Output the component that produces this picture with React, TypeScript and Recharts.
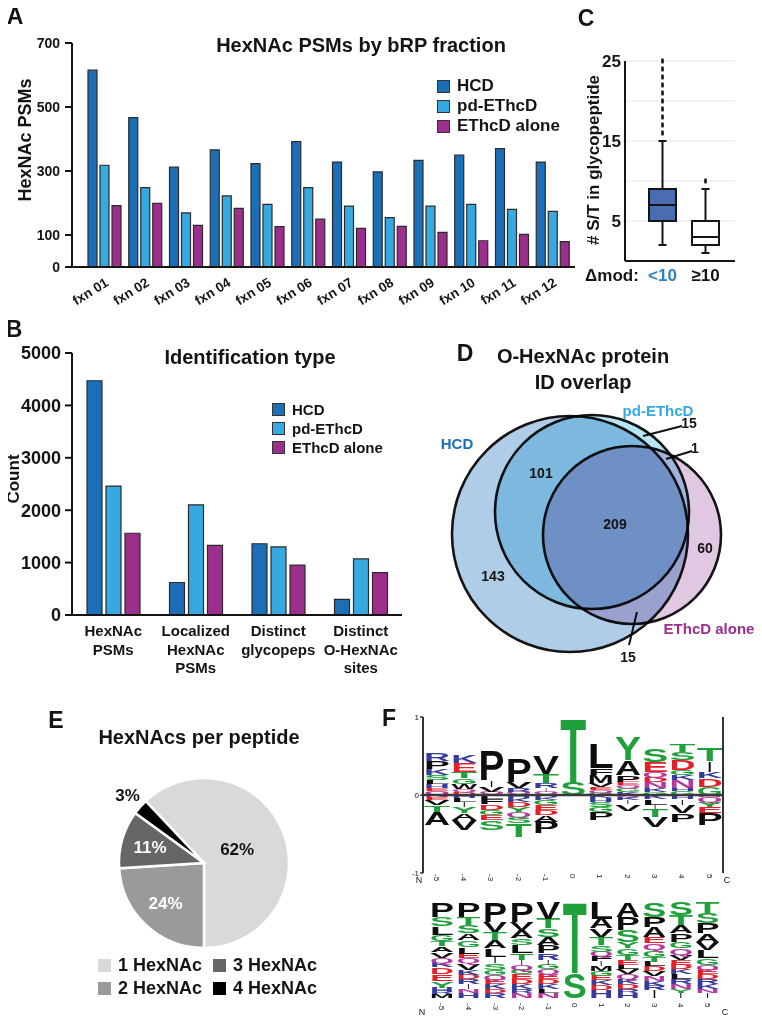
import React from "react";
import {
  BarChart,
  Bar,
  ComposedChart,
  XAxis,
  YAxis,
  CartesianGrid,
  Legend,
  PieChart,
  Pie,
  ScatterChart,
  Scatter,
  ReferenceLine,
} from "recharts";

const FONT = '"Liberation Sans", Arial, Helvetica, sans-serif';
const INK = "#141414";

// ---- A: HexNAc PSMs by bRP fraction
const fractions = ["fxn 01", "fxn 02", "fxn 03", "fxn 04", "fxn 05", "fxn 06", "fxn 07", "fxn 08", "fxn 09", "fxn 10", "fxn 11", "fxn 12"];
const hcdPsms = [615, 467, 312, 366, 323, 392, 328, 297, 333, 350, 370, 328];
const pdEthcdPsms = [318, 248, 169, 222, 196, 248, 190, 154, 190, 196, 180, 174];
const ethcdAlonePsms = [192, 199, 130, 183, 126, 150, 121, 127, 108, 82, 102, 79];
const psmTicks = [0, 100, 300, 500, 700];

// ---- B: identification type
const idTypes = ["HexNAc\nPSMs", "Localized\nHexNAc\nPSMs", "Distinct\nglycopeps", "Distinct\nO-HexNAc\nsites"];
const hcdCounts = [4470, 620, 1360, 300];
const pdEthcdCounts = [2460, 2100, 1300, 1070];
const ethcdAloneCounts = [1560, 1330, 950, 810];
const countTicks = [0, 1000, 2000, 3000, 4000, 5000];

const methods = ["HCD", "pd-EThcD", "EThcD alone"];
const methodColors = ["#1b6fb8", "#36a9e1", "#9c2f8c"];

// ---- C: # S/T in glycopeptide
const modGroups = ["<10", "≥10"];
const modColors = ["#2f80c4", INK];
const whiskerLow = [2, 1];
const boxQ1 = [5, 2];
const boxMedian = [7, 3];
const boxQ3 = [9, 5];
const whiskerHigh = [15, 9];
const outlierValues = [[16, 17, 18, 19, 20, 21, 22, 23, 24, 25], [10]];
const boxFills = ["#4a6cb3", "#ffffff"];

// ---- D: protein ID overlap (venn layout in its own units)
const vennX = [130, 152, 192];
const vennY = [134, 112, 135];
const vennR = [118, 97, 89];
const vennFills = ["#afcde7", "#b6e5f6", "#e0c8e3"];
const vennNameX = [17, 218, 269];
const vennNameY = [43, 10, 228];
const regionCounts = [143, 101, 209, 60, 15, 1, 15];
const regionX = [53, 101, 175, 265, 249, 255, 188];
const regionY = [176, 73, 124, 148, 23, 48, 257];

// ---- E: HexNAcs per peptide
const hexnacClasses = ["1 HexNAc", "2 HexNAc", "3 HexNAc", "4 HexNAc"];
const hexnacShare = [62, 24, 11, 3];
const pieColors = ["#d9d9d9", "#9a9a9a", "#666666", "#000000"];

// ---- F: sequence logos, residues read top to bottom
const logoPositions = ["-5", "-4", "-3", "-2", "-1", "0", "1", "2", "3", "4", "5"];
const enrichedUp: [string, number][][] = [
  [["R", 0.107], ["P", 0.1], ["K", 0.08], ["S", 0.065], ["L", 0.05], ["H", 0.055], ["E", 0.04], ["Q", 0.045]],
  [["K", 0.107], ["E", 0.116], ["T", 0.077], ["G", 0.073], ["W", 0.064], ["Q", 0.04], ["D", 0.037]],
  [["P", 0.386], ["I", 0.086], ["V", 0.064], ["Q", 0.025], ["H", 0.018]],
  [["P", 0.3], ["V", 0.077], ["R", 0.05], ["Q", 0.025], ["D", 0.018]],
  [["V", 0.236], ["T", 0.12], ["R", 0.064], ["I", 0.043], ["Q", 0.025], ["D", 0.018]],
  [["T", 0.837], ["S", 0.16]],
  [["L", 0.32], ["F", 0.086], ["M", 0.1], ["V", 0.05], ["E", 0.04], ["Q", 0.035], ["G", 0.032]],
  [["Y", 0.3], ["A", 0.193], ["P", 0.086], ["E", 0.045], ["Q", 0.04], ["G", 0.045], ["K", 0.04]],
  [["S", 0.17], ["E", 0.13], ["Q", 0.064], ["D", 0.064], ["N", 0.086], ["K", 0.045], ["G", 0.04]],
  [["T", 0.107], ["S", 0.094], ["D", 0.13], ["G", 0.064], ["K", 0.064], ["N", 0.107], ["H", 0.04], ["G", 0.046]],
  [["T", 0.17], ["I", 0.13], ["K", 0.086], ["D", 0.107], ["G", 0.107]],
];
// depleted residues
const depletedDown: [string, number][][] = [
  [["N", 0.03], ["E", 0.034], ["V", 0.065], ["T", 0.085], ["A", 0.17]],
  [["H", 0.04], ["L", 0.045], ["I", 0.07], ["Y", 0.077], ["A", 0.085], ["V", 0.13]],
  [["L", 0.056], ["F", 0.06], ["D", 0.07], ["G", 0.073], ["E", 0.064], ["S", 0.12]],
  [["H", 0.04], ["K", 0.046], ["D", 0.064], ["Y", 0.064], ["Q", 0.064], ["S", 0.086], ["T", 0.17]],
  [["H", 0.03], ["K", 0.034], ["G", 0.064], ["E", 0.064], ["D", 0.064], ["A", 0.086], ["P", 0.15]],
  [],
  [["K", 0.04], ["H", 0.046], ["S", 0.064], ["G", 0.064], ["P", 0.107]],
  [["Q", 0.03], ["K", 0.034], ["I", 0.056], ["V", 0.086]],
  [["K", 0.056], ["L", 0.073], ["I", 0.056], ["T", 0.094], ["V", 0.13]],
  [["H", 0.056], ["I", 0.073], ["V", 0.107], ["P", 0.107]],
  [["N", 0.02], ["Q", 0.064], ["Y", 0.064], ["E", 0.086], ["P", 0.15]],
];
const frequencyUp: [string, number][][] = [
  [["P", 0.155], ["S", 0.1], ["L", 0.086], ["G", 0.07], ["T", 0.05], ["A", 0.06], ["V", 0.06], ["Q", 0.05], ["K", 0.05], ["D", 0.07], ["E", 0.07], ["Y", 0.07], ["H", 0.035], ["R", 0.035], ["M", 0.039]],
  [["P", 0.155], ["T", 0.086], ["S", 0.086], ["A", 0.07], ["G", 0.07], ["L", 0.07], ["E", 0.05], ["Q", 0.05], ["V", 0.07], ["K", 0.05], ["D", 0.05], ["R", 0.05], ["I", 0.05], ["N", 0.04], ["H", 0.053]],
  [["P", 0.207], ["V", 0.103], ["T", 0.086], ["A", 0.086], ["L", 0.086], ["I", 0.07], ["S", 0.07], ["G", 0.05], ["Q", 0.05], ["E", 0.05], ["K", 0.05], ["D", 0.04], ["R", 0.052]],
  [["P", 0.207], ["V", 0.086], ["A", 0.086], ["S", 0.07], ["L", 0.086], ["T", 0.07], ["I", 0.05], ["Q", 0.05], ["G", 0.05], ["E", 0.05], ["D", 0.05], ["K", 0.05], ["R", 0.04], ["N", 0.055]],
  [["V", 0.172], ["T", 0.103], ["S", 0.086], ["A", 0.086], ["P", 0.086], ["R", 0.07], ["I", 0.05], ["G", 0.05], ["Q", 0.05], ["E", 0.05], ["D", 0.05], ["K", 0.05], ["L", 0.04], ["N", 0.057]],
  [["T", 0.74], ["S", 0.26]],
  [["L", 0.172], ["A", 0.103], ["V", 0.086], ["T", 0.086], ["S", 0.07], ["Q", 0.05], ["F", 0.05], ["I", 0.05], ["M", 0.05], ["G", 0.05], ["E", 0.05], ["K", 0.05], ["D", 0.05], ["H", 0.083]],
  [["A", 0.155], ["P", 0.138], ["S", 0.12], ["Y", 0.07], ["G", 0.07], ["T", 0.05], ["E", 0.05], ["L", 0.05], ["V", 0.05], ["Q", 0.05], ["K", 0.05], ["D", 0.05], ["R", 0.04], ["H", 0.057]],
  [["S", 0.155], ["P", 0.103], ["A", 0.103], ["E", 0.07], ["Q", 0.07], ["G", 0.07], ["T", 0.05], ["L", 0.05], ["D", 0.05], ["V", 0.05], ["N", 0.05], ["K", 0.05], ["R", 0.05], ["I", 0.079]],
  [["S", 0.138], ["T", 0.103], ["A", 0.086], ["P", 0.086], ["G", 0.07], ["Q", 0.07], ["V", 0.05], ["E", 0.05], ["D", 0.05], ["K", 0.05], ["L", 0.05], ["R", 0.05], ["N", 0.05], ["Y", 0.04], ["I", 0.057]],
  [["T", 0.12], ["S", 0.103], ["P", 0.103], ["A", 0.086], ["V", 0.086], ["L", 0.086], ["G", 0.07], ["Q", 0.05], ["E", 0.05], ["D", 0.05], ["R", 0.05], ["K", 0.05], ["N", 0.04], ["I", 0.056]],
];

function aaColor(aa: string) {
  if ("GSTYC".includes(aa)) return "#20a03a";
  if ("NQ".includes(aa)) return "#b6389e";
  if ("KRH".includes(aa)) return "#373b9b";
  if ("DE".includes(aa)) return "#e3202a";
  return "#0d0d0d";
}

function Txt({ x, y, size, children, color = INK, rotate = 0, weight = 700 }: any) {
  return (
    <div
      style={{
        position: "absolute",
        zIndex: 5,
        left: x,
        top: y,
        transform: `translate(-50%, -50%) rotate(${rotate}deg)`,
        fontSize: size,
        fontWeight: weight,
        color,
        whiteSpace: "nowrap",
        lineHeight: 1,
      }}
    >
      {children}
    </div>
  );
}

function SquareLegend({ payload = [], size, rowH, sq }: any) {
  const items = [...payload].sort((a: any, b: any) => methods.indexOf(a.value) - methods.indexOf(b.value));
  return (
    <div style={{ fontFamily: FONT }}>
      {items.map((p: any) => (
        <div key={p.value} style={{ display: "flex", alignItems: "center", height: rowH, fontSize: size, fontWeight: 700, color: INK, whiteSpace: "nowrap" }}>
          <span style={{ width: sq, height: sq, background: methodColors[methods.indexOf(p.value)] ?? p.color, border: "1.5px solid #333", boxSizing: "border-box", marginRight: 7, flex: "none" }} />
          {p.value}
        </div>
      ))}
    </div>
  );
}

const FxnTick = ({ x, y, payload }: any) => (
  <text x={x + 5} y={y + 10} transform={`rotate(-32 ${x + 5} ${y + 10})`} textAnchor="end" fontSize={13.5} fontWeight={700} fill={INK}>
    {payload.value}
  </text>
);

const MultiTick = ({ x, y, payload }: any) => (
  <text x={x} y={y} textAnchor="middle" fontSize={15} fontWeight={700} fill={INK}>
    {String(payload.value)
      .split("\n")
      .map((s, i) => (
        <tspan key={i} x={x} dy={i === 0 ? 13 : 18.5}>
          {s}
        </tspan>
      ))}
  </text>
);

function PanelA() {
  const data = fractions.map((f, i) => ({ fxn: f, HCD: hcdPsms[i], pd: pdEthcdPsms[i], alone: ethcdAlonePsms[i] }));
  return (
    <div style={{ position: "absolute", left: 0, top: 0 }}>
      <BarChart width={580} height={320} data={data} margin={{ top: 43, right: 5, left: 0, bottom: 0 }} barSize={9} barGap={3}>
        <XAxis dataKey="fxn" height={53} interval={0} padding={{ left: 12, right: 2 }} tick={FxnTick} axisLine={{ stroke: INK, strokeWidth: 2 }} tickLine={false} />
        <YAxis domain={[0, 700]} ticks={psmTicks} interval={0} width={72} tickSize={7} tickMargin={5} tick={{ fontSize: 14, fontWeight: 700, fill: INK }} axisLine={{ stroke: INK, strokeWidth: 2 }} tickLine={{ stroke: INK, strokeWidth: 2 }} />
        <Legend layout="vertical" align="center" verticalAlign="middle" wrapperStyle={{ left: 437, top: 76, width: 160 }} content={(p: any) => <SquareLegend {...p} size={17} rowH={20} sq={13} />} />
        <Bar dataKey="HCD" name="HCD" fill={methodColors[0]} stroke="#2b2b2b" strokeWidth={1.2} isAnimationActive={false} />
        <Bar dataKey="pd" name="pd-EThcD" fill={methodColors[1]} stroke="#2b2b2b" strokeWidth={1.2} isAnimationActive={false} />
        <Bar dataKey="alone" name="EThcD alone" fill={methodColors[2]} stroke="#2b2b2b" strokeWidth={1.2} isAnimationActive={false} />
      </BarChart>
    </div>
  );
}

function PanelB() {
  const data = idTypes.map((t, i) => ({ type: t, HCD: hcdCounts[i], pd: pdEthcdCounts[i], alone: ethcdAloneCounts[i] }));
  return (
    <div style={{ position: "absolute", left: 0, top: 320 }}>
      <BarChart width={410} height={355} data={data} margin={{ top: 33, right: 8, left: 0, bottom: 0 }} barSize={15} barGap={4}>
        <XAxis dataKey="type" height={60} interval={0} tick={MultiTick} axisLine={{ stroke: INK, strokeWidth: 2 }} tickLine={false} />
        <YAxis domain={[0, 5000]} ticks={countTicks} interval={0} width={72} tickSize={7} tickMargin={4} tick={{ fontSize: 18, fontWeight: 700, fill: INK }} axisLine={{ stroke: INK, strokeWidth: 2 }} tickLine={{ stroke: INK, strokeWidth: 2 }} />
        <Legend layout="vertical" align="center" verticalAlign="middle" wrapperStyle={{ left: 272, top: 80, width: 140 }} content={(p: any) => <SquareLegend {...p} size={15} rowH={19} sq={13} />} />
        <Bar dataKey="HCD" name="HCD" fill={methodColors[0]} stroke="#2b2b2b" strokeWidth={1.2} isAnimationActive={false} />
        <Bar dataKey="pd" name="pd-EThcD" fill={methodColors[1]} stroke="#2b2b2b" strokeWidth={1.2} isAnimationActive={false} />
        <Bar dataKey="alone" name="EThcD alone" fill={methodColors[2]} stroke="#2b2b2b" strokeWidth={1.2} isAnimationActive={false} />
      </BarChart>
    </div>
  );
}

function BoxShape(props: any) {
  const { x, width, payload } = props;
  let { y, height } = props;
  if (height < 0) {
    y += height;
    height = -height;
  }
  const ppu = height / (payload.hi - payload.lo);
  const yOf = (v: number) => y + (payload.hi - v) * ppu;
  const cx = x + width / 2;
  return (
    <g>
      <line x1={cx} x2={cx} y1={yOf(payload.hi)} y2={yOf(payload.lo)} stroke={INK} strokeWidth={2} />
      <line x1={cx - 4} x2={cx + 4} y1={yOf(payload.hi)} y2={yOf(payload.hi)} stroke={INK} strokeWidth={2} />
      <line x1={cx - 4} x2={cx + 4} y1={yOf(payload.lo)} y2={yOf(payload.lo)} stroke={INK} strokeWidth={2} />
      <rect x={x} y={yOf(payload.q3)} width={width} height={yOf(payload.q1) - yOf(payload.q3)} fill={payload.fill} stroke={INK} strokeWidth={2} />
      <line x1={x} x2={x + width} y1={yOf(payload.med)} y2={yOf(payload.med)} stroke={INK} strokeWidth={2} />
      {payload.out.map((v: number) => (
        <rect key={v} x={cx - 1.3} y={yOf(v) - 2.4} width={2.6} height={4.8} fill={INK} />
      ))}
    </g>
  );
}

const StTick = ({ x, y, payload }: any) =>
  payload.value % 10 === 5 ? (
    <text x={x} y={y} dy="0.35em" textAnchor="end" fontSize={17} fontWeight={700} fill={INK}>
      {payload.value}
    </text>
  ) : null;

const ModTick = ({ x, y, payload }: any) => (
  <text x={x} y={y} dy={12} textAnchor="middle" fontSize={17} fontWeight={700} fill={modColors[modGroups.indexOf(payload.value)]}>
    {payload.value}
  </text>
);

function PanelC() {
  const data = modGroups.map((g, i) => ({
    group: g,
    lo: whiskerLow[i],
    q1: boxQ1[i],
    med: boxMedian[i],
    q3: boxQ3[i],
    hi: whiskerHigh[i],
    out: outlierValues[i],
    fill: boxFills[i],
  }));
  return (
    <div style={{ position: "absolute", left: 560, top: 0 }}>
      <ComposedChart width={202} height={292} data={data} margin={{ top: 61, right: 27, left: 0, bottom: 0 }}>
        <CartesianGrid vertical={false} stroke="#e4e4e4" />
        <XAxis dataKey="group" height={31} interval={0} padding={{ left: 16, right: 8 }} tick={ModTick} axisLine={{ stroke: INK, strokeWidth: 2 }} tickLine={false} />
        <YAxis domain={[0, 25]} ticks={[5, 10, 15, 20, 25]} interval={0} width={65} tickSize={0} tickMargin={4} tick={StTick} axisLine={{ stroke: INK, strokeWidth: 2 }} tickLine={false} />
        <Bar dataKey={(d: any) => [d.lo, d.hi]} barSize={27} shape={BoxShape} isAnimationActive={false} />
      </ComposedChart>
    </div>
  );
}

function PanelD() {
  const circles = methods.map((m, i) => ({ name: m, x: vennX[i], y: vennY[i], r: vennR[i], fill: vennFills[i] }));
  const counts = regionCounts.map((n, i) => ({ n, x: regionX[i], y: regionY[i] }));
  const names = methods.map((m, i) => ({ name: m, x: vennNameX[i], y: vennNameY[i], color: methodColors[i] }));
  return (
    <div style={{ position: "absolute", left: 440, top: 400 }}>
      <ScatterChart width={322} height={270} margin={{ top: 0, right: 0, left: 0, bottom: 0 }}>
        <XAxis type="number" dataKey="x" domain={[0, 322]} hide />
        <YAxis type="number" dataKey="y" domain={[0, 270]} reversed hide />
        <Scatter
          data={circles}
          isAnimationActive={false}
          shape={(p: any) => <circle cx={p.cx} cy={p.cy} r={p.payload.r} fill={p.payload.fill} stroke={INK} strokeWidth={2.6} style={{ mixBlendMode: "multiply" }} />}
        />
        <ReferenceLine segment={[{ x: 203, y: 36 }, { x: 242, y: 26 }]} stroke={INK} strokeWidth={2} />
        <ReferenceLine segment={[{ x: 226, y: 59 }, { x: 252, y: 51 }]} stroke={INK} strokeWidth={2} />
        <ReferenceLine segment={[{ x: 197, y: 212 }, { x: 189, y: 245 }]} stroke={INK} strokeWidth={2} />
        <Scatter
          data={counts}
          isAnimationActive={false}
          shape={(p: any) => (
            <text x={p.cx} y={p.cy} textAnchor="middle" dominantBaseline="central" fontSize={14} fontWeight={700} fill={INK}>
              {p.payload.n}
            </text>
          )}
        />
        <Scatter
          data={names}
          isAnimationActive={false}
          shape={(p: any) => (
            <text x={p.cx} y={p.cy} textAnchor="middle" dominantBaseline="central" fontSize={15} fontWeight={700} fill={p.payload.color}>
              {p.payload.name}
            </text>
          )}
        />
      </ScatterChart>
    </div>
  );
}

const RAD = Math.PI / 180;
function PieLabel({ cx, cy, midAngle, outerRadius, percent }: any) {
  const pct = Math.round(percent * 100);
  const r = pct < 5 ? outerRadius + 17 : pct > 50 ? outerRadius * 0.42 : outerRadius * 0.66;
  const x = cx + r * Math.cos(-midAngle * RAD);
  const y = cy + r * Math.sin(-midAngle * RAD);
  const light = pct > 5 && pct < 50;
  return (
    <text x={x} y={y} textAnchor="middle" dominantBaseline="central" fontSize={17} fontWeight={700} fill={light ? "#fff" : INK}>
      {pct}%
    </text>
  );
}

function PieLegend() {
  return (
    <div style={{ display: "grid", gridTemplateRows: "23px 23px", gridAutoFlow: "column", gridTemplateColumns: "115px 130px", fontFamily: FONT }}>
      {hexnacClasses.map((c, i) => (
        <div key={c} style={{ display: "flex", alignItems: "center", fontSize: 18, fontWeight: 700, color: INK, whiteSpace: "nowrap" }}>
          <span style={{ width: 13, height: 13, background: pieColors[i], marginRight: 7, flex: "none" }} />
          {c}
        </div>
      ))}
    </div>
  );
}

function PanelE() {
  const data = hexnacClasses.map((c, i) => ({ name: c, share: hexnacShare[i], fill: pieColors[i] }));
  return (
    <div style={{ position: "absolute", left: 80, top: 768 }}>
      <PieChart width={260} height={250}>
        <Pie
          data={data}
          dataKey="share"
          nameKey="name"
          cx={119}
          cy={90}
          outerRadius={85}
          startAngle={133.2}
          endAngle={-226.8}
          stroke="#fff"
          strokeWidth={2.5}
          label={PieLabel}
          labelLine={false}
          isAnimationActive={false}
        />
        <Legend layout="vertical" align="center" verticalAlign="middle" wrapperStyle={{ left: 18, top: 186, width: 250 }} content={() => <PieLegend />} />
      </PieChart>
    </div>
  );
}

function Glyph({ x, y, width, height, aa }: any) {
  if (!aa || !height || !width) return null;
  let top = y;
  let h = height;
  if (h < 0) {
    top = y + h;
    h = -h;
  }
  if (h < 0.4) return null;
  const fs = 100;
  const sy = h / (fs * 0.716);
  if (aa === "I") {
    // narrow residue: keep its own width instead of stretching to the column
    const sx = Math.min(sy, width / 30);
    return (
      <text x={0} y={0} fontSize={fs} fontWeight={700} fontFamily={FONT} fill={aaColor(aa)} textAnchor="middle" transform={`translate(${x + width / 2} ${top + h}) scale(${sx} ${sy})`}>
        I
      </text>
    );
  }
  return (
    <text
      x={0}
      y={0}
      fontSize={fs}
      fontWeight={700}
      fontFamily={FONT}
      fill={aaColor(aa)}
      textLength={width}
      lengthAdjust="spacingAndGlyphs"
      transform={`translate(${x} ${top + h}) scale(1 ${sy})`}
    >
      {aa}
    </text>
  );
}

function buildLogo(up: [string, number][][], down: [string, number][][] | null) {
  const nUp = Math.max(...up.map((c) => c.length));
  const nDown = down ? Math.max(...down.map((c) => c.length)) : 0;
  const rows = logoPositions.map((pos, i) => {
    const row: any = { pos };
    for (let j = 0; j < nUp; j++) row[`p${j}`] = 0;
    for (let j = 0; j < nDown; j++) row[`n${j}`] = 0;
    [...up[i]].reverse().forEach(([aa, h], j) => {
      row[`p${j}`] = h;
      row[`p${j}aa`] = aa;
    });
    if (down)
      down[i].forEach(([aa, h], j) => {
        row[`n${j}`] = -h;
        row[`n${j}aa`] = aa;
      });
    return row;
  });
  const keys = [...Array.from({ length: nUp }, (_, j) => `p${j}`), ...Array.from({ length: nDown }, (_, j) => `n${j}`)];
  return { rows, keys };
}

const PosTick = ({ x, y, payload, shift }: any) => (
  <text x={x} y={y + shift} transform={`rotate(90 ${x} ${y + shift})`} textAnchor="start" dy="0.35em" fontSize={8} fill={INK}>
    {payload.value}
  </text>
);

function PanelF() {
  const top = buildLogo(enrichedUp, depletedDown);
  const bottom = buildLogo(frequencyUp, null);
  return (
    <>
      <div style={{ position: "absolute", left: 380, top: 700 }}>
        <BarChart width={360} height={198} data={top.rows} stackOffset="sign" margin={{ top: 17, right: 0, left: 0, bottom: 0 }} barSize={26}>
          <XAxis dataKey="pos" height={25} interval={0} axisLine={false} tickLine={false} tick={(p: any) => <PosTick {...p} shift={-7} />} />
          <YAxis yAxisId="l" domain={[-1, 1]} ticks={[-1, 0, 1]} interval={0} width={43} tickSize={3} tickMargin={1} tick={{ fontSize: 8, fill: INK }} axisLine={{ stroke: "#333", strokeWidth: 2 }} tickLine={{ stroke: "#333", strokeWidth: 1.5 }} />
          <YAxis yAxisId="r" orientation="right" domain={[-1, 1]} ticks={[-1, 0, 1]} interval={0} width={17} tickSize={3} tickMargin={1} tick={{ fontSize: 8, fill: INK }} axisLine={{ stroke: "#333", strokeWidth: 2 }} tickLine={{ stroke: "#333", strokeWidth: 1.5 }} />
          {top.keys.map((k) => (
            <Bar key={k} dataKey={k} stackId="s" yAxisId="l" isAnimationActive={false} shape={(p: any) => <Glyph {...p} aa={p.payload[`${k}aa`]} />} />
          ))}
          <ReferenceLine y={0} yAxisId="l" stroke="#3a3a3a" strokeWidth={2.5} />
        </BarChart>
      </div>
      <div style={{ position: "absolute", left: 380, top: 895 }}>
        <BarChart width={360} height={125} data={bottom.rows} margin={{ top: 7, right: 19, left: 49, bottom: 0 }} barSize={24}>
          <XAxis dataKey="pos" height={22} interval={0} axisLine={false} tickLine={false} tick={(p: any) => <PosTick {...p} shift={-3} />} />
          <YAxis domain={[0, 1]} hide />
          {bottom.keys.map((k) => (
            <Bar key={k} dataKey={k} stackId="s" isAnimationActive={false} shape={(p: any) => <Glyph {...p} aa={p.payload[`${k}aa`]} />} />
          ))}
        </BarChart>
      </div>
    </>
  );
}

export default function App() {
  return (
    <div style={{ position: "relative", width: 762, height: 1028, margin: -8, fontFamily: FONT, color: INK, background: "#fff" }}>
      <PanelA />
      <PanelB />
      <PanelC />
      <PanelD />
      <PanelE />
      <PanelF />

      <Txt x={15} y={16} size={23}>A</Txt>
      <Txt x={361} y={45} size={20}>HexNAc PSMs by bRP fraction</Txt>
      <Txt x={25} y={140} size={18} rotate={-90}>HexNAc PSMs</Txt>

      <Txt x={14} y={329} size={23}>B</Txt>
      <Txt x={250} y={357} size={20}>Identification type</Txt>
      <Txt x={13} y={479} size={17} rotate={-90}>Count</Txt>

      <Txt x={586} y={18} size={23}>C</Txt>
      <Txt x={593} y={160} size={17} rotate={-90}># S/T in glycopeptide</Txt>
      <Txt x={612} y={275} size={17}>Δmod:</Txt>

      <Txt x={465} y={353} size={23}>D</Txt>
      <Txt x={583} y={356} size={20}>O-HexNAc protein</Txt>
      <Txt x={583} y={382} size={20}>ID overlap</Txt>

      <Txt x={56} y={720} size={23}>E</Txt>
      <Txt x={199} y={737} size={20}>HexNAcs per peptide</Txt>

      <Txt x={389} y={718} size={23}>F</Txt>
      <Txt x={419} y={880} size={9} weight={400}>N</Txt>
      <Txt x={727} y={880} size={9} weight={400}>C</Txt>
      <Txt x={422} y={1012} size={9} weight={400}>N</Txt>
      <Txt x={725} y={1012} size={9} weight={400}>C</Txt>
      <Txt x={712} y={1022} size={4} weight={400}>weblogo.berkeley.edu</Txt>
    </div>
  );
}
